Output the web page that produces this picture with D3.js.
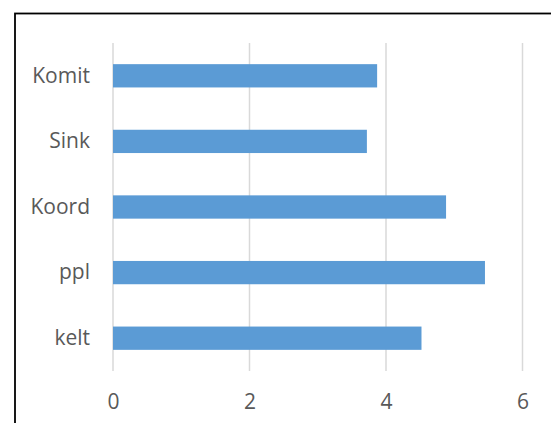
<!DOCTYPE html>
<html>
<head>
<meta charset="utf-8">
<script src="https://cdn.jsdelivr.net/npm/d3@7"></script>
<style>
  body { margin: 0; background: #fff; }
  svg { display: block; }
  .tick text { font-family: 'Open Sans', sans-serif; font-size: 21px; fill: #595959; }
</style>
</head>
<body>
<div id="chart"></div>
<script>
'use strict';
var categories = ['Komit', 'Sink', 'Koord', 'ppl', 'kelt'];
var values = [3.87, 3.72, 4.88, 5.45, 4.52];
var xTicks = [0, 2, 4, 6];

var W = 551, H = 423;
var margin = {top: 43, left: 113, right: 28, bottom: 52};

var svg = d3.select('#chart').append('svg')
  .attr('width', W)
  .attr('height', H);

// chart frame (right and bottom edges fall outside the picture)
svg.append('rect')
  .attr('x', 15).attr('y', 13.5)
  .attr('width', 560).attr('height', 430)
  .attr('fill', 'none')
  .attr('stroke', '#000')
  .attr('stroke-width', 1.8);

var g = svg.append('g')
  .attr('transform', 'translate(' + margin.left + ',' + margin.top + ')');

var x = d3.scaleLinear().domain([0, 6]).range([0, 409.5]);
var y = d3.scaleBand()
  .domain(categories)
  .range([0, 328])
  .paddingInner(0.645)
  .paddingOuter(0.3225);

// gridlines
g.selectAll('.grid')
  .data(xTicks)
  .enter().append('line')
  .attr('class', 'grid')
  .attr('x1', function(d) { return x(d); })
  .attr('x2', function(d) { return x(d); })
  .attr('y1', 0)
  .attr('y2', 328)
  .attr('stroke', '#d9d9d9')
  .attr('stroke-width', 1.5);

g.selectAll('.bar')
  .data(values)
  .enter().append('rect')
  .attr('class', 'bar')
  .attr('x', x(0))
  .attr('y', function(d, i) { return y(categories[i]); })
  .attr('width', function(d) { return x(d) - x(0); })
  .attr('height', y.bandwidth())
  .attr('fill', '#5b9bd5');

var xAxis = g.append('g')
  .attr('transform', 'translate(0,328)')
  .call(d3.axisBottom(x).tickValues(xTicks).tickFormat(d3.format('d')).tickSize(0).tickPadding(23));
xAxis.select('.domain').remove();

var yAxis = g.append('g')
  .call(d3.axisLeft(y).tickSize(0).tickPadding(23));
yAxis.select('.domain').remove();
</script>
</body>
</html>
